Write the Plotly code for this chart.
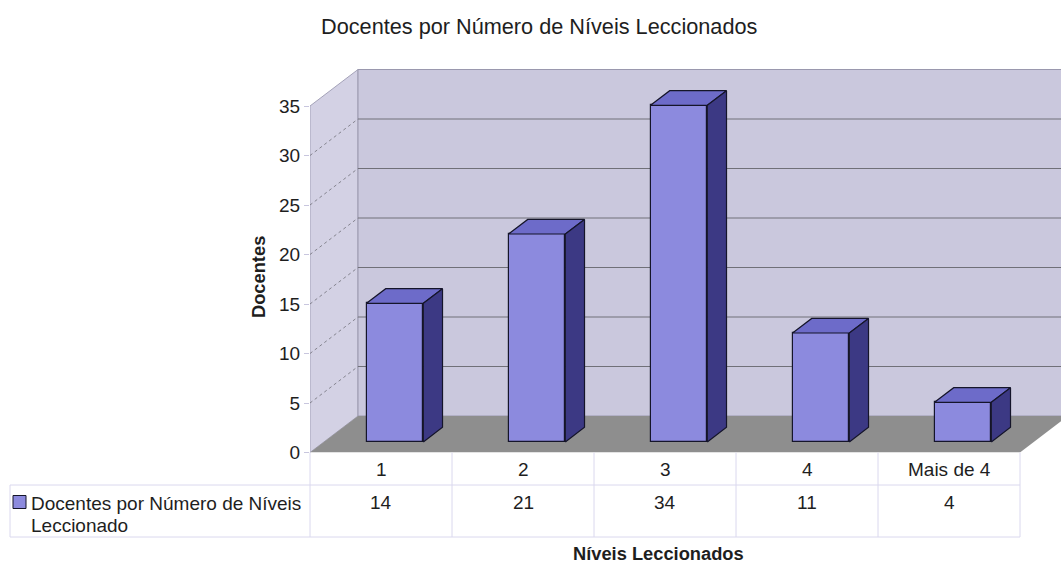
import plotly.graph_objects as go

# ---- data -------------------------------------------------------------
categories = ["1", "2", "3", "4", "Mais de 4"]
docentes = [14, 21, 34, 11, 4]
y_ticks = [0, 5, 10, 15, 20, 25, 30, 35]
series_name = "Docentes por Número de Níveis Leccionado"
title_text = "Docentes por Número de Níveis Leccionados"
x_title = "Níveis Leccionados"
y_title = "Docentes"

# ---- geometry ---------------------------------------------------------
W, H = 1061, 565
X0_PX = 381        # front centre of the first category
CAT_PX = 142       # width of one category on the front edge
LEFT_PX = X0_PX - CAT_PX / 2
Y0_PX = 452.5      # front zero line
UNIT_PX = 9.9      # pixels per unit on the front plane
TOP_PX = 60

X_MAX = (W - X0_PX) / CAT_PX
Y_MAX = (Y0_PX - TOP_PX) / UNIT_PX

# oblique depth of the floor, in axis units
DX = 48 / CAT_PX
DY = 36.5 / UNIT_PX
WALL_TOP = y_ticks[-1] + DY

# bar placement inside the depth
F_FRONT = 0.29
F_DEPTH = 0.40
BAR_W = 0.40
FDX, FDY = F_FRONT * DX, F_FRONT * DY
SDX, SDY = F_DEPTH * DX, F_DEPTH * DY

FONT = "Arial, 'Liberation Sans', sans-serif"
TXT = "#1e1e1e"
FRONT = "#8C8ADE"
TOPC = "#6D6BC9"
SIDE = "#3C3984"
EDGE = "#15152a"
BACK_WALL = "#CAC8DD"
SIDE_WALL = "#D3D1E4"
FLOOR = "#8E8E8E"
GRID = "#707078"
TABLE_LINE = "#DAD8EE"
BODY_SIZE = 19


def px(u):
    return X0_PX + CAT_PX * u


def pxp(p):
    return p / W


def pyp(p):
    return (H - p) / H


def path(pts):
    return "M " + " L ".join(f"{a},{b}" for a, b in pts) + " Z"


shapes = []
xl = -0.5
# walls and floor
shapes.append(dict(type="path", xref="x", yref="y", layer="below",
                   path=path([(xl, 0), (xl + DX, DY), (xl + DX, WALL_TOP), (xl, y_ticks[-1])]),
                   fillcolor=SIDE_WALL, line=dict(color="#a4a2b8", width=1)))
shapes.append(dict(type="path", xref="x", yref="y", layer="below",
                   path=path([(xl + DX, DY), (X_MAX + 0.2, DY), (X_MAX + 0.2, WALL_TOP), (xl + DX, WALL_TOP)]),
                   fillcolor=BACK_WALL, line=dict(color="#9a98ae", width=1)))
n = len(categories)
shapes.append(dict(type="path", xref="x", yref="y", layer="below",
                   path=path([(xl, 0), (xl + n, 0), (xl + n + DX, DY), (xl + DX, DY)]),
                   fillcolor=FLOOR, line=dict(width=0)))
# gridlines on back wall and side wall
for v in y_ticks[1:-1]:
    shapes.append(dict(type="line", xref="x", yref="y", layer="below",
                       x0=xl + DX, x1=X_MAX + 0.2, y0=v + DY, y1=v + DY,
                       line=dict(color=GRID, width=1)))
for v in y_ticks[1:-1]:
    shapes.append(dict(type="line", xref="x", yref="y", layer="below",
                       x0=xl, x1=xl + DX, y0=v, y1=v + DY,
                       line=dict(color=GRID, width=0.8, dash="dot")))

# data table lines
ROW1_TOP, ROW2_TOP, ROW2_BOT = 452.5, 485, 537
TABLE_LEFT = 10
right_px = px(xl + n)
shapes.append(dict(type="line", xref="paper", yref="paper", x0=pxp(TABLE_LEFT), x1=pxp(right_px),
                   y0=pyp(ROW2_TOP), y1=pyp(ROW2_TOP), line=dict(color=TABLE_LINE, width=1)))
shapes.append(dict(type="line", xref="paper", yref="paper", x0=pxp(TABLE_LEFT), x1=pxp(right_px),
                   y0=pyp(ROW2_BOT), y1=pyp(ROW2_BOT), line=dict(color=TABLE_LINE, width=1)))
shapes.append(dict(type="line", xref="paper", yref="paper", x0=pxp(TABLE_LEFT), x1=pxp(TABLE_LEFT),
                   y0=pyp(ROW2_TOP), y1=pyp(ROW2_BOT), line=dict(color=TABLE_LINE, width=1)))
for k in range(n + 1):
    xp = px(xl + k)
    shapes.append(dict(type="line", xref="paper", yref="paper", x0=pxp(xp), x1=pxp(xp),
                       y0=pyp(ROW1_TOP), y1=pyp(ROW2_BOT), line=dict(color=TABLE_LINE, width=1)))
# legend key
shapes.append(dict(type="rect", xref="paper", yref="paper", x0=pxp(13), x1=pxp(26),
                   y0=pyp(508.5), y1=pyp(495.5), fillcolor=FRONT, line=dict(color=EDGE, width=1)))

fig = go.Figure()

xs = [i + FDX for i in range(n)]
fig.add_trace(go.Bar(x=xs, y=docentes, base=[FDY] * n, width=BAR_W,
                     marker=dict(color=FRONT, line=dict(color=EDGE, width=1.2)),
                     name=series_name, showlegend=False,
                     hovertemplate="%{customdata}: %{y}<extra></extra>", customdata=categories))

# top and side faces of each bar
for x, v in zip(xs, docentes):
    l, r = x - BAR_W / 2, x + BAR_W / 2
    b, t = FDY, FDY + v
    top = [(l, t), (r, t), (r + SDX, t + SDY), (l + SDX, t + SDY), (l, t)]
    side = [(r, b), (r + SDX, b + SDY), (r + SDX, t + SDY), (r, t), (r, b)]
    for pts, col in ((top, TOPC), (side, SIDE)):
        fig.add_trace(go.Scatter(x=[p[0] for p in pts], y=[p[1] for p in pts],
                                 mode="lines", fill="toself", fillcolor=col,
                                 line=dict(color=EDGE, width=1.2),
                                 hoverinfo="skip", showlegend=False))

ann = []
# table: category row and value row
for i, (c, v) in enumerate(zip(categories, docentes)):
    ann.append(dict(x=i, xref="x", y=pyp(469.5), yref="paper", text=c, showarrow=False,
                    xanchor="center", yanchor="middle", font=dict(size=BODY_SIZE, color=TXT, family=FONT)))
    ann.append(dict(x=i, xref="x", y=pyp(502.5), yref="paper", text=str(v), showarrow=False,
                    xanchor="center", yanchor="middle", font=dict(size=BODY_SIZE, color=TXT, family=FONT)))
first, last = series_name.rsplit(" ", 1)
ann.append(dict(x=pxp(29), xref="paper", y=pyp(503), yref="paper", text=first, showarrow=False,
                xanchor="left", yanchor="middle", font=dict(size=BODY_SIZE, color=TXT, family=FONT)))
ann.append(dict(x=pxp(29), xref="paper", y=pyp(525), yref="paper", text=last, showarrow=False,
                xanchor="left", yanchor="middle", font=dict(size=BODY_SIZE, color=TXT, family=FONT)))
# titles
ann.append(dict(x=pxp(539.5), xref="paper", y=pyp(26), yref="paper", text=title_text, showarrow=False,
                xanchor="center", yanchor="middle", font=dict(size=21.7, color=TXT, family=FONT)))
ann.append(dict(x=pxp(658), xref="paper", y=pyp(553), yref="paper", text=f"<b>{x_title}</b>",
                showarrow=False, xanchor="center", yanchor="middle",
                font=dict(size=18.3, color=TXT, family=FONT)))
ann.append(dict(x=pxp(258), xref="paper", y=pyp(277), yref="paper", text=f"<b>{y_title}</b>",
                showarrow=False, textangle=-90, xanchor="center", yanchor="middle",
                font=dict(size=18.3, color=TXT, family=FONT)))

fig.update_layout(
    width=W, height=H,
    margin=dict(l=0, r=0, t=0, b=0, pad=0, autoexpand=False),
    paper_bgcolor="white", plot_bgcolor="rgba(0,0,0,0)",
    shapes=shapes, annotations=ann,
    bargap=0, showlegend=False,
    xaxis=dict(domain=[pxp(LEFT_PX), 1], range=[xl, X_MAX], showgrid=False, zeroline=False,
               showticklabels=False, ticks="", fixedrange=True, automargin=False),
    yaxis=dict(domain=[pyp(Y0_PX), pyp(TOP_PX)], range=[0, Y_MAX], showgrid=False, zeroline=False,
               tickvals=y_ticks, ticktext=[str(t) for t in y_ticks], ticks="outside", ticklen=5,
               tickcolor="#C8C6DE", showline=False, automargin=False,
               tickfont=dict(size=BODY_SIZE, color=TXT, family=FONT), fixedrange=True),
)

fig.write_html("out.html", config={"displayModeBar": False})
